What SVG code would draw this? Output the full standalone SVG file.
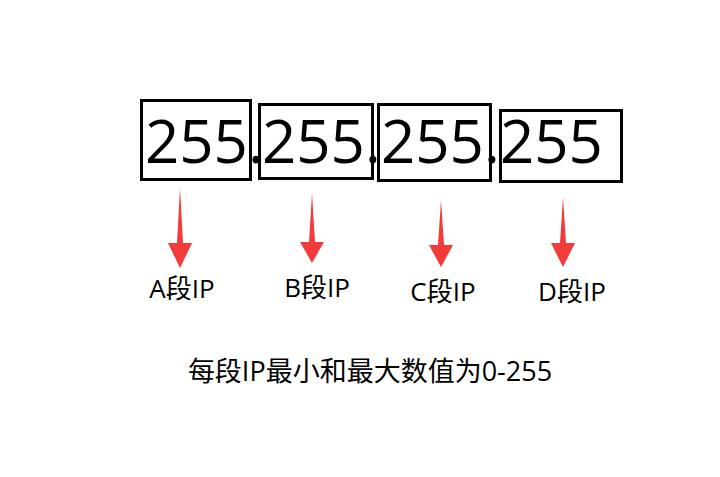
<svg xmlns="http://www.w3.org/2000/svg" width="720" height="477" viewBox="0 0 720 477">
<style>
.box{fill:none;stroke:#000;stroke-width:3}
.num{font-family:"Open Sans","Noto Sans CJK SC",sans-serif;font-size:60px;fill:#000}
.lbl{font-family:"Open Sans","Noto Sans CJK SC",sans-serif;font-size:26px;fill:#000}
.note{font-family:"Open Sans","Noto Sans CJK SC",sans-serif;font-size:27px;fill:#000}
.arr{fill:#f23b3b}
</style>
<rect width="720" height="477" fill="#fff"/>
<g id="seg-a">
<rect class="box" x="141.5" y="100.5" width="109" height="79"/>
<text class="num" x="145" y="163">255.</text>
</g>
<g id="seg-b">
<rect class="box" x="259.5" y="104.5" width="113" height="74"/>
<text class="num" x="262" y="163">255.</text>
</g>
<g id="seg-c">
<rect class="box" x="378.5" y="104.5" width="112" height="76"/>
<text class="num" x="381" y="163">255.</text>
</g>
<g id="seg-d">
<rect class="box" x="500.5" y="110.5" width="121" height="71"/>
<text class="num" x="500" y="163">255</text>
</g>
<g id="connectors">
<polygon class="arr" points="180,188 183,243 192,243 180,268 168,243 177,243"/>
<polygon class="arr" points="312,193 315,242 324,242 312,263 300,242 309,242"/>
<polygon class="arr" points="441,200 444,245 453,245 441,267 429,245 438,245"/>
<polygon class="arr" points="563,197 566,243 575,243 563,267 551,243 560,243"/>
</g>
<g id="label-a"><text class="lbl" x="182" y="298" text-anchor="middle">A段IP</text></g>
<g id="label-b"><text class="lbl" x="317" y="297" text-anchor="middle">B段IP</text></g>
<g id="label-c"><text class="lbl" x="443" y="301" text-anchor="middle">C段IP</text></g>
<g id="label-d"><text class="lbl" x="572" y="301" text-anchor="middle">D段IP</text></g>
<g id="note-text"><text class="note" x="370" y="381" text-anchor="middle">每段IP最小和最大数值为0-255</text></g>
</svg>
